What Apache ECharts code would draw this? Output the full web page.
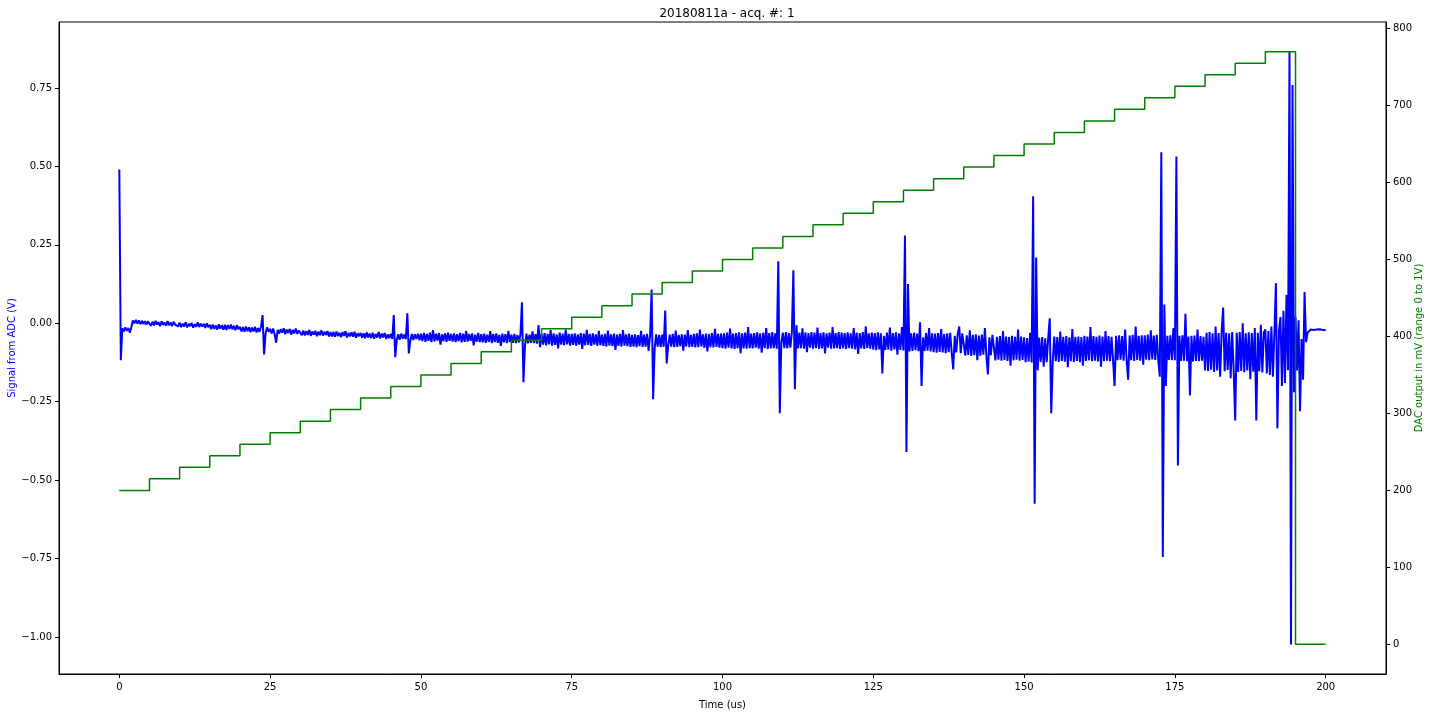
<!DOCTYPE html>
<html>
<head>
<meta charset="utf-8">
<script src="https://cdn.jsdelivr.net/npm/echarts@6.0.0/dist/echarts.min.js"></script>
<style>
html,body{margin:0;padding:0;background:#fff;}
#chart{width:1432px;height:712px;}
</style>
</head>
<body>
<div id="chart"></div>
<script>
// ---- data ----
const chartTitle = '20180811a - acq. #: 1';
const xAxisName = 'Time (us)';
const leftAxisName = 'Signal from ADC (V)';
const rightAxisName = 'DAC output in mV (range 0 to 1V)';

const timeTicks = [0, 25, 50, 75, 100, 125, 150, 175, 200];
const signalTicks = [-1.0, -0.75, -0.5, -0.25, 0.0, 0.25, 0.5, 0.75];
const dacTicks = [0, 100, 200, 300, 400, 500, 600, 700, 800];

// DAC staircase (time in us, value in mV)
const dacTimes = [0,5,10,15,20,25,30,35,40,45,50,55,60,65,70,75,80,85,90,95,100,105,110,115,120,125,130,135,140,145,150,155,160,165,170,175,180,185,190,195,200];
const dacValues = [200,215,230,245,260,275,290,305,320,335,350,365,380,395,410,425,440,455,470,485,500,515,530,545,560,575,590,605,620,635,650,665,680,695,710,725,740,755,770,0,0];

// ADC signal (V), sampled every 0.25 us starting at 0 us (one row = 5 us)
const adcStart = 0;
const adcPeriod = 0.25;
const adcSignal = [
0.49,-0.118,-0.016,-0.026,-0.013,-0.024,-0.015,-0.030,-0.012,0.009,0.000,0.011,-0.001,0.009,-0.003,0.008,-0.002,0.007,-0.004,0.006,
0.007,-0.008,0.005,-0.007,0.008,-0.004,0.004,-0.009,0.006,-0.005,0.002,-0.008,0.007,-0.006,0.003,-0.009,0.005,-0.004,0.001,-0.010,
0.002,-0.012,-0.001,-0.010,0.003,-0.013,-0.002,-0.009,0.001,-0.014,-0.003,-0.011,0.003,-0.012,-0.001,-0.010,-0.002,-0.015,0.000,-0.012,
-0.005,-0.019,-0.004,-0.018,-0.007,-0.020,-0.003,-0.017,-0.006,-0.020,-0.005,-0.021,-0.006,-0.018,-0.004,-0.019,-0.008,-0.022,-0.006,-0.019,
-0.011,-0.026,-0.012,-0.027,-0.010,-0.025,-0.013,-0.028,-0.014,-0.026,-0.011,-0.029,-0.015,-0.027,-0.010,0.026,-0.099,-0.032,-0.013,-0.027,
-0.018,-0.032,-0.017,-0.034,-0.062,-0.021,-0.033,-0.019,-0.030,-0.016,-0.035,-0.020,-0.031,-0.018,-0.036,-0.021,-0.032,-0.017,-0.034,-0.023,
-0.024,-0.038,-0.023,-0.039,-0.025,-0.037,-0.021,-0.040,-0.026,-0.036,-0.024,-0.041,-0.027,-0.038,-0.022,-0.039,-0.027,-0.037,-0.025,-0.042,
-0.028,-0.042,-0.027,-0.043,-0.026,-0.041,-0.030,-0.044,-0.028,-0.040,-0.025,-0.045,-0.031,-0.042,-0.029,-0.043,-0.027,-0.046,-0.032,-0.041,
-0.031,-0.046,-0.032,-0.048,-0.029,-0.045,-0.033,-0.047,-0.030,-0.049,-0.034,-0.046,-0.028,-0.048,-0.033,-0.045,-0.031,-0.050,-0.035,-0.047,
-0.034,-0.050,0.026,-0.108,-0.053,-0.035,-0.052,-0.033,-0.049,-0.036,-0.051,0.032,-0.096,-0.055,-0.034,-0.053,-0.035,-0.050,-0.033,-0.054,
-0.033,-0.057,-0.031,-0.059,-0.034,-0.056,-0.030,-0.060,-0.022,-0.058,-0.033,-0.055,-0.031,-0.068,-0.035,-0.057,-0.032,-0.059,-0.030,-0.056,
-0.034,-0.058,-0.032,-0.060,-0.035,-0.057,-0.031,-0.061,-0.033,-0.059,-0.024,-0.058,-0.034,-0.056,-0.032,-0.070,-0.036,-0.059,-0.031,-0.060,
-0.035,-0.061,-0.033,-0.062,-0.036,-0.059,-0.025,-0.063,-0.034,-0.060,-0.032,-0.062,-0.037,-0.072,-0.033,-0.061,-0.035,-0.063,-0.024,-0.060,
-0.036,-0.062,-0.034,-0.063,-0.037,-0.061,-0.035,0.067,-0.188,-0.072,-0.033,-0.064,-0.036,-0.062,-0.026,-0.063,-0.035,-0.065,-0.006,-0.076,
-0.033,-0.068,-0.031,-0.070,-0.034,-0.067,-0.022,-0.071,-0.032,-0.069,-0.035,-0.080,-0.030,-0.068,-0.033,-0.070,-0.020,-0.067,-0.034,-0.071,
-0.034,-0.069,-0.032,-0.071,-0.035,-0.068,-0.031,-0.082,-0.033,-0.070,-0.021,-0.069,-0.034,-0.072,-0.032,-0.068,-0.035,-0.071,-0.024,-0.070,
-0.036,-0.072,-0.034,-0.074,-0.023,-0.071,-0.035,-0.073,-0.033,-0.085,-0.036,-0.072,-0.034,-0.074,-0.022,-0.071,-0.035,-0.073,-0.033,-0.075,
-0.037,-0.074,-0.035,-0.076,-0.038,-0.073,-0.024,-0.075,-0.036,-0.074,-0.034,-0.088,-0.037,0.108,-0.242,-0.080,-0.035,-0.074,-0.037,-0.076,
-0.036,-0.075,0.041,-0.128,-0.070,-0.036,-0.074,-0.034,-0.076,-0.023,-0.075,-0.037,-0.073,-0.035,-0.087,-0.036,-0.074,-0.022,-0.076,-0.037,
-0.075,-0.034,-0.077,-0.032,-0.076,-0.020,-0.074,-0.035,-0.078,-0.033,-0.090,-0.034,-0.076,-0.031,-0.077,-0.018,-0.075,-0.034,-0.078,-0.033,
-0.079,-0.032,-0.081,-0.030,-0.078,-0.017,-0.080,-0.033,-0.082,-0.031,-0.079,-0.029,-0.095,-0.032,-0.080,-0.030,-0.081,-0.012,-0.079,-0.033,
-0.080,-0.031,-0.078,-0.029,-0.081,-0.032,-0.094,-0.030,-0.079,-0.015,-0.082,-0.031,-0.080,-0.028,-0.079,-0.032,-0.081,0.198,-0.287,-0.062,
-0.030,-0.079,-0.028,-0.080,-0.031,-0.078,-0.029,0.169,-0.210,-0.006,-0.080,-0.030,-0.079,-0.016,-0.081,-0.029,-0.092,-0.031,-0.078,-0.028,
-0.081,-0.030,-0.079,-0.014,-0.082,-0.031,-0.080,-0.029,-0.096,-0.032,-0.078,-0.030,-0.081,-0.012,-0.080,-0.031,-0.079,-0.028,-0.082,-0.030,
-0.080,-0.031,-0.082,-0.029,-0.079,-0.032,-0.081,-0.015,-0.083,-0.030,-0.098,-0.031,-0.080,-0.028,-0.082,-0.010,-0.079,-0.032,-0.081,-0.030,
-0.084,-0.031,-0.086,-0.029,-0.083,-0.032,-0.160,-0.040,-0.085,-0.030,-0.084,-0.014,-0.087,-0.031,-0.083,-0.029,-0.100,-0.032,-0.085,-0.012,
-0.087,0.280,-0.410,0.125,-0.090,-0.032,-0.088,-0.030,-0.086,-0.033,-0.089,0.003,-0.200,-0.045,-0.088,-0.031,-0.087,-0.015,-0.090,-0.032,
-0.092,-0.033,-0.094,-0.031,-0.091,-0.018,-0.093,-0.034,-0.095,-0.032,-0.092,-0.030,-0.094,-0.147,-0.040,-0.093,-0.033,-0.010,-0.095,-0.032,
-0.036,-0.103,-0.038,-0.101,-0.022,-0.104,-0.037,-0.102,-0.035,-0.118,-0.039,-0.103,-0.036,-0.100,-0.015,-0.104,-0.163,-0.045,-0.102,-0.037,
-0.040,-0.118,-0.043,-0.116,-0.041,-0.119,-0.025,-0.117,-0.042,-0.120,-0.044,-0.135,-0.040,-0.118,-0.043,-0.116,-0.020,-0.119,-0.042,-0.117,
-0.045,-0.124,-0.047,-0.122,-0.030,-0.125,0.405,-0.575,0.210,-0.150,-0.046,-0.123,-0.044,-0.138,-0.048,-0.124,-0.046,0.016,-0.287,-0.122,
-0.042,-0.121,-0.044,-0.123,-0.026,-0.120,-0.043,-0.122,-0.041,-0.140,-0.045,-0.121,-0.018,-0.123,-0.043,-0.120,-0.042,-0.124,-0.044,-0.135,
-0.040,-0.120,-0.042,-0.118,-0.012,-0.121,-0.041,-0.119,-0.043,-0.122,-0.039,-0.138,-0.042,-0.120,-0.025,-0.119,-0.041,-0.121,-0.043,-0.118,
-0.200,-0.040,-0.118,-0.038,-0.116,-0.041,-0.119,-0.020,-0.117,-0.180,-0.039,-0.118,-0.037,-0.120,-0.010,-0.117,-0.040,-0.119,-0.038,-0.132,
-0.038,-0.116,-0.036,-0.118,-0.022,-0.115,-0.039,-0.117,-0.037,-0.119,-0.170,0.545,-0.745,0.060,-0.200,-0.040,-0.117,-0.038,-0.118,-0.015,
-0.118,0.532,-0.453,-0.040,-0.120,-0.038,-0.119,0.030,-0.121,-0.042,-0.230,-0.040,-0.122,-0.039,-0.120,-0.020,-0.121,-0.041,-0.119,-0.043,
-0.150,-0.030,-0.152,-0.028,-0.148,-0.032,-0.155,-0.010,-0.150,-0.031,-0.170,-0.029,0.050,-0.153,-0.030,-0.149,-0.032,-0.175,-0.028,-0.151,
-0.310,-0.030,-0.155,-0.028,-0.152,0.000,-0.156,-0.032,-0.150,-0.029,-0.178,-0.031,-0.154,-0.015,-0.310,-0.030,-0.153,-0.005,-0.157,-0.029,
-0.020,-0.160,-0.025,-0.165,-0.010,-0.170,-0.030,0.128,-0.335,-0.025,0.020,-0.200,0.040,-0.190,0.090,-0.150,0.866,-1.024,0.760,-0.220,
0.020,-0.150,0.010,-0.280,-0.050,-0.180,0.100,-0.060,-0.030,-0.025,-0.020,-0.024,-0.021,-0.023,-0.020,-0.022,-0.019,-0.023,-0.021,-0.022,
-0.021
];

// ---- chart ----
const FONT = 'DejaVu Sans';
const minusFmt = (v, digits) => (v < 0 ? '\u2212' : '') + Math.abs(v).toFixed(digits);

const adcData = adcSignal.map((v, i) => [adcStart + i * adcPeriod, v]);
const dacData = dacTimes.map((t, i) => [t, dacValues[i]]);

const chart = echarts.init(document.getElementById('chart'), null, {renderer: 'canvas'});
const lineCommon = {show: true, onZero: false, lineStyle: {color: '#000', width: 1}};
chart.setOption({
  animation: false,
  backgroundColor: '#fff',
  title: {
    text: chartTitle,
    left: 722, top: 3, textAlign: 'center',
    textStyle: {fontFamily: FONT, fontSize: 12, fontWeight: 'normal', color: '#000'}
  },
  grid: {left: 59, right: 46, top: 22, bottom: 38, outerBoundsMode: 'none', containLabel: false,
    show: true, borderColor: '#000', borderWidth: 1, backgroundColor: 'transparent'},
  xAxis: {
    type: 'value', min: -10, max: 210,
    name: xAxisName, nameLocation: 'middle', nameGap: 26, nameMoveOverlap: false,
    nameTextStyle: {fontFamily: FONT, fontSize: 10, color: '#000'},
    axisLine: lineCommon,
    splitLine: {show: false},
    axisTick: {show: true, length: 4, lineStyle: {color: '#000'}, customValues: timeTicks},
    axisLabel: {customValues: timeTicks, fontFamily: FONT, fontSize: 10, color: '#000', margin: 8,
      formatter: v => minusFmt(v, 0)}
  },
  yAxis: [
    {
      type: 'value', position: 'left', min: -1.118, max: 0.9605,
      name: leftAxisName, nameLocation: 'middle', nameGap: 42, nameRotate: 90, nameMoveOverlap: false,
      nameTextStyle: {fontFamily: FONT, fontSize: 10, color: '#0000ff'},
      axisLine: lineCommon,
      splitLine: {show: false},
      axisTick: {show: true, length: 4, lineStyle: {color: '#000'}, customValues: signalTicks},
      axisLabel: {customValues: signalTicks, fontFamily: FONT, fontSize: 10, color: '#000', margin: 7,
        formatter: v => minusFmt(v, 2)}
    },
    {
      type: 'value', position: 'right', min: -38.5, max: 808.5,
      name: rightAxisName, nameLocation: 'middle', nameGap: 28, nameRotate: 90, nameMoveOverlap: false,
      nameTextStyle: {fontFamily: FONT, fontSize: 10, color: '#008000'},
      axisLine: lineCommon,
      splitLine: {show: false},
      axisTick: {show: true, length: 4, lineStyle: {color: '#000'}, customValues: dacTicks},
      axisLabel: {customValues: dacTicks, fontFamily: FONT, fontSize: 10, color: '#000', margin: 7,
        formatter: v => minusFmt(v, 0)}
    }
  ],
  series: [
    {
      type: 'line', name: 'ADC', yAxisIndex: 0, data: adcData,
      showSymbol: false, symbol: 'none',
      lineStyle: {color: '#0000ff', width: 2},
      itemStyle: {color: '#0000ff'},
      z: 2
    },
    {
      type: 'line', name: 'DAC', yAxisIndex: 1, data: dacData, step: 'end',
      showSymbol: false, symbol: 'none',
      lineStyle: {color: '#008000', width: 1.5},
      itemStyle: {color: '#008000'},
      z: 3
    }
  ]
});
</script>
</body>
</html>
